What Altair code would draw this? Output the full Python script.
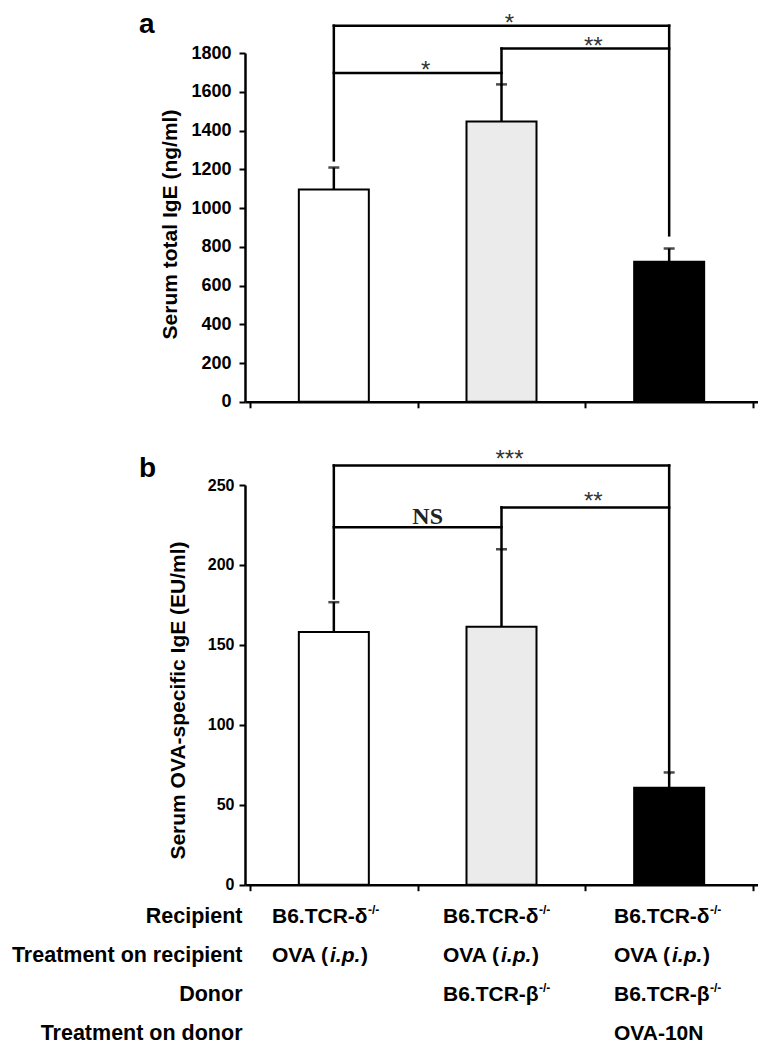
import altair as alt
import pandas as pd

FONT = "Liberation Sans"

# ---------------- data ----------------
group_idx = [0, 1, 2]
bar_fill = ["#ffffff", "#ebebeb", "#000000"]

# panel a: serum total IgE (ng/ml)
total_ige = [1095, 1446, 723]
total_ige_sem = [114, 192, 68]

# panel b: serum OVA-specific IgE (EU/ml)
ova_ige = [158.0, 161.4, 60.6]
ova_ige_sem = [18.7, 48.4, 9.6]

# significance brackets (group from, group to, level, label) and drop-line bottoms per group
a_from = [0, 0, 1]
a_to = [2, 1, 2]
a_level = [1941, 1697, 1823]
a_label = ["*", "*", "**"]
a_drop = [1246, 1638, 859]

b_from = [0, 0, 1]
b_to = [2, 1, 2]
b_level = [262.2, 223.6, 236.0]
b_label = ["***", "NS", "**"]
b_drop = [179.0, 209.8, 69.6]

row_names = ["Recipient", "Treatment on recipient", "Donor", "Treatment on donor"]
recipient = ["B6.TCR-δ", "B6.TCR-δ", "B6.TCR-δ"]
recipient_treatment = ["OVA", "OVA", "OVA"]
donor = ["", "B6.TCR-β", "B6.TCR-β"]
donor_treatment = ["", "", "OVA-10N"]

# ---------------- helpers ----------------
XS = alt.Scale(domain=[0, 3], nice=False, zero=False)
X_AXIS = alt.Axis(values=[0, 1, 2, 3], labels=False, title=None, tickSize=6,
                  tickWidth=2, domainWidth=2.5, grid=False)


def panel(values, sems, f, t, lev, lab, drop, ymax, yticks, ytitle,
          lab_size, lab_pad, title_pad, letter, letter_y, star_dy, height, title_y):
    bars = pd.DataFrame({"g": group_idx, "val": values, "sem": sems, "fill": bar_fill})
    bars["pos"] = bars["g"] + 0.5
    bars["val2"] = bars["val"] + bars["sem"]
    caps = pd.DataFrame({"pos": bars["pos"], "val": bars["val2"]})

    hb = pd.DataFrame({"pos": [a + 0.5 for a in f], "pos2": [b + 0.5 for b in t],
                       "val": lev, "label": lab})
    lbl = pd.DataFrame({"pos": (hb["pos"] + hb["pos2"]) / 2, "val": lev, "label": lab})
    vtop = [max(l for a, b, l in zip(f, t, lev) if g in (a, b)) for g in group_idx]
    vb = pd.DataFrame({"pos": [g + 0.5 for g in group_idx], "val": drop, "val2": vtop})

    ys = alt.Scale(domain=[0, ymax], nice=False, zero=True)
    Y = alt.Y("val:Q", scale=ys, axis=alt.Axis(
        values=yticks, format="d", title=ytitle, labelFontSize=lab_size,
        labelPadding=lab_pad, titlePadding=title_pad, tickSize=6, tickWidth=2,
        domainWidth=2.5, titleFontSize=21, grid=False, titleY=title_y))
    X = alt.X("pos:Q", scale=XS, axis=X_AXIS)

    bar_layer = alt.Chart(bars).mark_bar(size=70, stroke="black", strokeWidth=2).encode(
        x=X, y=Y, fill=alt.Fill("fill:N", scale=None))
    err_rule = alt.Chart(bars).mark_rule(strokeWidth=2.5, color="black").encode(
        x=X, y=Y, y2="val2:Q")
    err_cap = alt.Chart(caps).mark_tick(orient="horizontal", size=11, thickness=2.5,
                                        color="black").encode(x=X, y=Y)
    hrule = alt.Chart(hb).mark_rule(strokeWidth=2.5, color="black", strokeCap="square").encode(
        x=X, x2="pos2:Q", y=Y)
    vrule = alt.Chart(vb).mark_rule(strokeWidth=2.5, color="black", strokeCap="square").encode(
        x=X, y=Y, y2="val2:Q")
    stars = alt.Chart(lbl).transform_filter("datum.label != 'NS'").mark_text(
        font=FONT, fontSize=24, color="#333333", dx=8, dy=star_dy,
        baseline="alphabetic").encode(x=X, y=Y, text="label:N")
    ns = alt.Chart(lbl).transform_filter("datum.label == 'NS'").mark_text(
        font="Liberation Serif", fontSize=24, fontWeight="bold", color="#222222",
        dx=10, dy=-10, baseline="middle").encode(x=X, y=Y, text="label:N")
    tag = alt.Chart(pd.DataFrame({"t": [letter]})).mark_text(
        align="left", baseline="alphabetic", font=FONT, fontSize=28, fontWeight="bold",
        color="black").encode(x=alt.value(-106), y=alt.value(letter_y), text="t:N")

    return alt.layer(bar_layer, err_rule, err_cap, hrule, vrule, stars, ns, tag).properties(
        width=513, height=height)


pa = panel(total_ige, total_ige_sem, a_from, a_to, a_level, a_label, a_drop,
           1800, list(range(0, 1801, 200)), "Serum total IgE (ng/ml)",
           18, 8, 10, "a", -20, 5, 348.8, 171)

pb = panel(ova_ige, ova_ige_sem, b_from, b_to, b_level, b_label, b_drop,
           250, [0, 50, 100, 150, 200, 250], "Serum OVA-specific IgE (EU/ml)",
           16, 5, 19, "b", -8, 2, 399.7, 215)

# empty band that separates the two panels
gap = alt.Chart(pd.DataFrame({"s": [""]})).mark_text().encode(
    text="s:N").properties(width=513, height=17)

# ---------------- table under the bars ----------------
cells = []
for r, vals, kind in [(row_names[0], recipient, "geno"),
                      (row_names[1], recipient_treatment, "route"),
                      (row_names[2], donor, "geno"),
                      (row_names[3], donor_treatment, "plain")]:
    for g, v in zip(group_idx, vals):
        if v:
            cells.append({"row": r, "g": g, "text": (v + " (") if kind == "route" else v,
                          "kind": kind})
tdf = pd.DataFrame(cells)

row_axis = alt.Axis(title=None, domain=False, ticks=False, labelFontSize=21.5,
                    labelFontWeight="bold", labelPadding=3, labelLimit=0,
                    labelFont=FONT, labelColor="black")
TX = alt.X("g:Q", scale=XS, axis=None)
TY = alt.Y("row:N", sort=row_names, scale=alt.Scale(type="point", padding=0.28), axis=row_axis)
tbase = alt.Chart(tdf).encode(x=TX, y=TY)
tkw = dict(align="left", baseline="middle", font=FONT, fontSize=21, fontWeight="bold",
           color="black")
t_main = tbase.mark_text(dx=27, **tkw).encode(text="text:N")
t_sup = tbase.transform_filter("datum.kind == 'geno'").mark_text(
    align="left", baseline="middle", font=FONT, fontSize=12, fontWeight="bold",
    color="black", dx=27 + 96, dy=-7).encode(text=alt.value("-/-"))
t_ital = tbase.transform_filter("datum.kind == 'route'").mark_text(
    dx=27 + 58, fontStyle="italic", **tkw).encode(text=alt.value("i.p."))
t_close = tbase.transform_filter("datum.kind == 'route'").mark_text(
    dx=27 + 89, **tkw).encode(text=alt.value(")"))
table = alt.layer(t_main, t_sup, t_ital, t_close).properties(width=513, height=138.8)

chart = alt.vconcat(pa, gap, pb, table, spacing=10).properties(
    padding={"left": 3, "top": 3, "right": 0, "bottom": 0}
).configure_view(stroke=None).configure_axis(
    labelFont=FONT, titleFont=FONT, labelFontWeight="bold", titleFontWeight="bold",
    labelColor="black", titleColor="black", domainColor="black", tickColor="black"
)

chart.save("out.html", embed_options={"renderer": "svg", "actions": False})
